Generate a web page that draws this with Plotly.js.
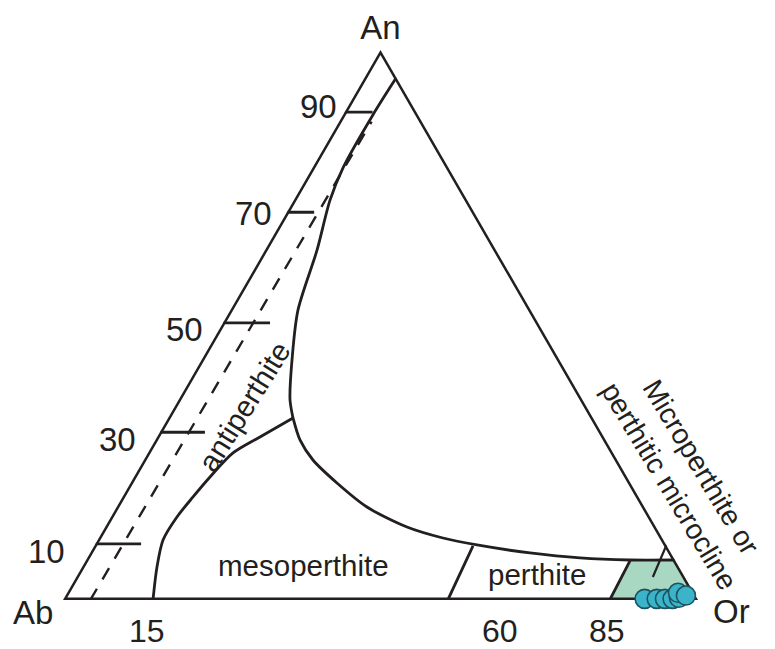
<!DOCTYPE html>
<html>
<head>
<meta charset="utf-8">
<script src="https://cdn.plot.ly/plotly-3.0.1.min.js"></script>
<style>html,body{margin:0;padding:0;background:#fff;}#chart{width:775px;height:649px;}</style>
</head>
<body>
<div id="chart"></div>
<script>
// ---- Data: fractions of An and Or (Ab = 1 - An - Or) ----
// antiperthite / one-feldspar boundary
const antiAn = [0.949, 0.882, 0.787, 0.727, 0.636, 0.527, 0.436, 0.364, 0.331];
const antiOr = [0.050, 0.047, 0.048, 0.057, 0.082, 0.1065, 0.1426, 0.1755, 0.1967];
// antiperthite / mesoperthite boundary
const mesoAn = [0.331, 0.2964, 0.2673, 0.2236, 0.1873, 0.1509, 0.1091, 0.060, 0.0];
const mesoOr = [0.1967, 0.162, 0.1341, 0.1197, 0.1111, 0.104, 0.103, 0.118, 0.1417];
// upper boundary of mesoperthite + perthite fields
const solvAn = [0.331, 0.291, 0.2545, 0.2127, 0.169, 0.1327, 0.1127, 0.100, 0.0855, 0.0764, 0.0727, 0.0727];
const solvOr = [0.1967, 0.2277, 0.2664, 0.3251, 0.3942, 0.4753, 0.542, 0.602, 0.6927, 0.776, 0.8565, 0.9273];
// mesoperthite / perthite boundary
const perthAn = [0.0982, 0.0];
const perthOr = [0.5966, 0.606];
// microperthite / perthitic microcline field
const microAn = [0.0, 0.0709, 0.0727, 0.0];
const microOr = [0.861, 0.8574, 0.9273, 1.0];
const microEdgeAn = [0.0, 0.0709];
const microEdgeOr = [0.861, 0.8574];
// dashed line
const dashAn = [0.0, 0.87];
const dashOr = [0.043, 0.051];
// label leader
const leadAn = [0.0418, 0.1873];
const leadOr = [0.908, 0.889];
// samples
const sampleAn = [0.002, 0.002, 0.002, 0.002, 0.004, 0.013, 0.008];
const sampleOr = [0.915, 0.934, 0.947, 0.959, 0.968, 0.962, 0.977];
// An scale ticks on the Ab-An side
const tickAn = [0.102, 0.305, 0.504, 0.705, 0.887];
const tickEndOr = [0.072, 0.071, 0.074, 0.043, 0.044];
const tickLabels = ['10', '30', '50', '70', '90'];
const bottomLabels = ['15', '60', '85'];
const vertexLabels = ['An', 'Ab', 'Or'];
const fieldLabels = ['antiperthite', 'mesoperthite', 'perthite', 'Microperthite or<br>perthitic microcline'];

// ---- helpers ----
const INK = '#231f20';
const FONT = 'Liberation Sans, Arial, Helvetica, sans-serif';
function ab(an, or) { return an.map((v, i) => (v === null ? null : 1 - v - or[i])); }
function line(an, or, extra) {
  return Object.assign({
    type: 'scatterternary', mode: 'lines',
    a: an, b: ab(an, or), c: or,
    line: { color: INK, width: 2.8 },
    cliponaxis: false, hoverinfo: 'skip', showlegend: false
  }, extra || {});
}

// tick segments
const tkA = [], tkO = [];
tickAn.forEach((v, i) => { tkA.push(v, v, null); tkO.push(0, tickEndOr[i], null); });

// triangle outline (start mid-edge so all three corners get mitred joins)
const triAn = [0.5, 0, 0, 1, 0.5];
const triOr = [0, 0, 1, 0, 0];

const traces = [
  line(microAn, microOr, { fill: 'toself', fillcolor: '#a8d8c1', line: { width: 0, color: 'rgba(0,0,0,0)' } }),
  line(dashAn, dashOr, { line: { color: INK, width: 2.4, dash: '13px,11px' } }),
  line(antiAn, antiOr, { line: { color: INK, width: 2.8, shape: 'spline', smoothing: 0.8 } }),
  line(mesoAn, mesoOr, { line: { color: INK, width: 2.8, shape: 'spline', smoothing: 0.8 } }),
  line(solvAn, solvOr, { line: { color: INK, width: 2.8, shape: 'spline', smoothing: 0.8 } }),
  line(perthAn, perthOr),
  line(microEdgeAn, microEdgeOr),
  line(leadAn, leadOr, { line: { color: INK, width: 2.2 } }),
  line(tkA, tkO, { line: { color: INK, width: 2.8 } }),
  line(triAn, triOr, { line: { color: INK, width: 5 } }),
  {
    type: 'scatterternary', mode: 'markers',
    a: sampleAn, b: ab(sampleAn, sampleOr), c: sampleOr,
    marker: { size: 19, color: '#3bb4ca', line: { color: '#1d5360', width: 1.6 } },
    cliponaxis: false, hoverinfo: 'skip', showlegend: false
  }
];

function txt(text, x, y, size, angle) {
  return {
    text: text, x: x, y: y, xref: 'paper', yref: 'paper',
    xanchor: 'center', yanchor: 'middle', showarrow: false,
    textangle: angle || 0, align: 'center',
    font: { family: FONT, size: size, color: INK }
  };
}
const numSize = 33, botSize = 32, fieldSize = 29.5;
const leftPos = [[-0.0252, 0.0873], [0.0866, 0.291], [0.1906, 0.4927], [0.300, 0.702], [0.4016, 0.898]];
const bottomPos = [[0.133, -0.0555], [0.688, -0.0555], [0.857, -0.0555]];
const annotations = [
  txt(vertexLabels[1], -0.0472, -0.0236, numSize),
  txt(vertexLabels[2], 1.052, -0.0218, numSize),
  txt(fieldLabels[0], 0.285, 0.352, fieldSize, -58),
  txt(fieldLabels[1], 0.378, 0.0636, fieldSize),
  txt(fieldLabels[2], 0.747, 0.0455, fieldSize),
  txt(fieldLabels[3], 0.980, 0.224, 28.5, 59)
];
tickLabels.forEach((t, i) => annotations.push(txt(t, leftPos[i][0], leftPos[i][1], numSize)));
bottomLabels.forEach((t, i) => annotations.push(txt(t, bottomPos[i][0], bottomPos[i][1], botSize)));

const hiddenAxis = {
  showgrid: false, showline: false, ticks: '', showticklabels: false, min: 0
};
const layout = {
  width: 775, height: 649,
  margin: { l: 63, r: 77, t: 50, b: 49, pad: 0 },
  paper_bgcolor: '#ffffff',
  showlegend: false,
  hovermode: false,
  ternary: {
    sum: 1,
    bgcolor: '#ffffff',
    aaxis: Object.assign({}, hiddenAxis, { title: { text: vertexLabels[0], font: { family: FONT, size: numSize, color: INK } } }),
    baxis: Object.assign({}, hiddenAxis, { title: { text: '' } }),
    caxis: Object.assign({}, hiddenAxis, { title: { text: '' } })
  },
  annotations: annotations
};

Plotly.newPlot('chart', traces, layout, { staticPlot: true, displayModeBar: false });
</script>
</body>
</html>
